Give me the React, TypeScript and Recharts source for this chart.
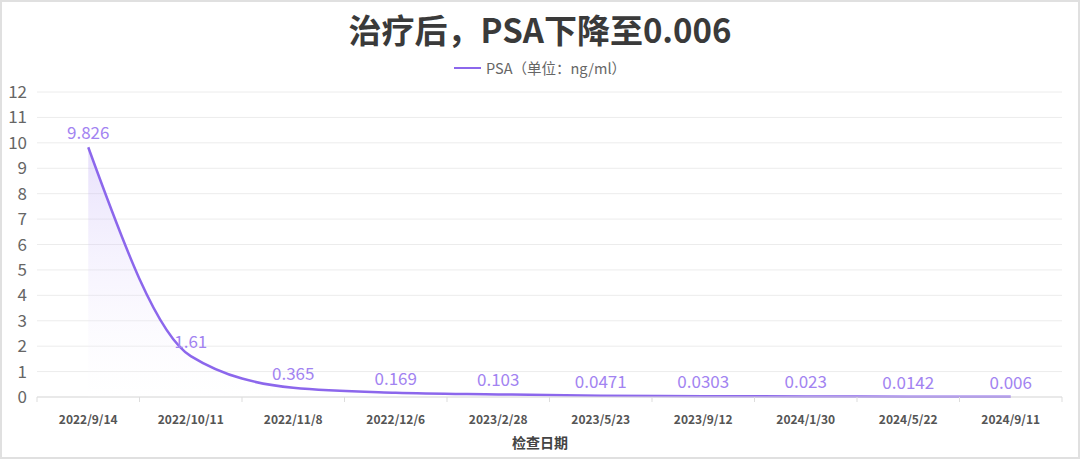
import React from 'react';
import { ComposedChart, Area, XAxis, YAxis, CartesianGrid, LabelList } from 'recharts';

const dates = ['2022/9/14', '2022/10/11', '2022/11/8', '2022/12/6', '2023/2/28', '2023/5/23', '2023/9/12', '2024/1/30', '2024/5/22', '2024/9/11'];
const psaValues = [9.826, 1.61, 0.365, 0.169, 0.103, 0.0471, 0.0303, 0.023, 0.0142, 0.006];
const yTicks = [0, 1, 2, 3, 4, 5, 6, 7, 8, 9, 10, 11, 12];

const data = dates.map((d, i) => ({ date: d, psa: psaValues[i] }));

const LINE = '#8c67ec';
const LABEL = '#a283f1';
const FONT = '"Noto Sans CJK SC", "Noto Sans", sans-serif';
const HALF_BAND = 51.25;

function XTick(props: any) {
    const { x, y, payload, index } = props;
    return (
        <g>
            <line x1={x - HALF_BAND} y1={y - 8} x2={x - HALF_BAND} y2={y - 3} stroke="#ddd" />
            {index === dates.length - 1 && (
                <line x1={x + HALF_BAND} y1={y - 8} x2={x + HALF_BAND} y2={y - 3} stroke="#ddd" />
            )}
            <text x={x} y={y + 19} textAnchor="middle" fill="#555" fontSize={12} fontWeight="bold" fontFamily={FONT}>
                {payload.value}
            </text>
        </g>
    );
}

export default function App() {
    return (
        <div style={{ position: 'fixed', left: 0, top: 0, width: 1080, height: 459, boxSizing: 'border-box', border: '2px solid #e0e0e0', background: '#fff', fontFamily: FONT }}>
            <div style={{ position: 'absolute', left: 0, right: 0, top: 3, textAlign: 'center', fontSize: 33, fontWeight: 'bold', color: '#3a3a3a' }}>
                治疗后，PSA下降至0.006
            </div>
            <div style={{ position: 'absolute', left: 0, right: 0, top: 55, display: 'flex', justifyContent: 'center', alignItems: 'center', fontSize: 14.5, color: '#666' }}>
                <span style={{ display: 'inline-block', width: 27, height: 2, background: LINE, marginRight: 5 }} />
                <span>PSA（单位：ng/ml）</span>
            </div>
            <div style={{ position: 'absolute', left: 0, right: 0, top: 430, textAlign: 'center', fontSize: 14, fontWeight: 'bold', color: '#444' }}>
                检查日期
            </div>
            <ComposedChart width={1076} height={455} data={data} margin={{ top: 90, right: 16, bottom: 59, left: 0 }} style={{ position: 'absolute', left: 0, top: 0 }}>
                <defs>
                    <linearGradient id="psaFill" x1="0" y1="0" x2="0" y2="1">
                        <stop offset="0%" stopColor="#b9a3f5" stopOpacity={0.55} />
                        <stop offset="100%" stopColor="#ffffff" stopOpacity={0.2} />
                    </linearGradient>
                </defs>
                <CartesianGrid vertical={false} stroke="#ececec" />
                <XAxis
                    dataKey="date"
                    height={1}
                    padding={{ left: HALF_BAND, right: HALF_BAND }}
                    axisLine={{ stroke: '#ddd' }}
                    tickLine={false}
                    tick={<XTick />}
                    interval={0}
                />
                <YAxis
                    domain={[0, 12]}
                    ticks={yTicks}
                    width={35}
                    axisLine={false}
                    tickLine={false}
                    tick={{ fill: '#666', fontSize: 17, fontFamily: FONT }}
                    tickMargin={4}
                    interval={0}
                />
                <Area
                    type="monotone"
                    dataKey="psa"
                    stroke={LINE}
                    strokeWidth={2.5}
                    fill="url(#psaFill)"
                    dot={false}
                    activeDot={false}
                    isAnimationActive={false}
                >
                    <LabelList dataKey="psa" position="top" offset={8} fill={LABEL} fontSize={17} fontFamily={FONT} />
                </Area>
            </ComposedChart>
        </div>
    );
}
